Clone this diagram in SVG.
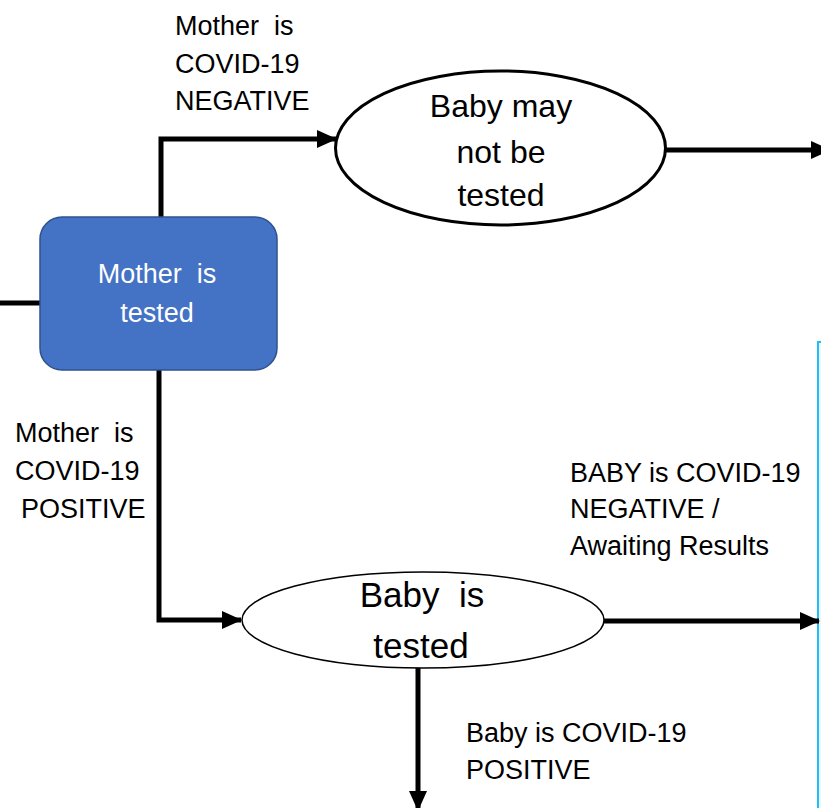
<svg xmlns="http://www.w3.org/2000/svg" width="821" height="808" viewBox="0 0 821 808">
<style>
.ln{fill:none;stroke:#000;stroke-width:5}
.t{font-family:"Liberation Sans",Arial,sans-serif;font-size:27px;fill:#000;white-space:pre}
.c{text-anchor:middle}
</style>
<defs>
<marker id="ah" markerUnits="userSpaceOnUse" markerWidth="20" markerHeight="18" refX="19" refY="9" orient="auto">
<path d="M0,0 L20,9 L0,18 Z" fill="#000"/>
</marker>
</defs>
<rect width="821" height="808" fill="#fff"/>
<g id="panel">
<rect x="818" y="342" width="6" height="470" fill="#EEF6FD" stroke="#1EC0F5" stroke-width="2"/>
</g>
<g id="connectors">
<line class="ln" x1="0" y1="303" x2="40" y2="303"/>
<polyline class="ln" points="161,217 161,139 336,139" marker-end="url(#ah)"/>
<line class="ln" x1="666" y1="150" x2="830" y2="150" marker-end="url(#ah)"/>
<polyline class="ln" points="159,370 159,620 241,620" marker-end="url(#ah)"/>
<line class="ln" x1="604" y1="621" x2="819" y2="621" marker-end="url(#ah)"/>
<line class="ln" x1="418" y1="668" x2="418" y2="810" marker-end="url(#ah)"/>
</g>
<g id="mother-tested">
<rect x="40" y="217" width="237" height="153" rx="22" fill="#4472C4" stroke="#2F528F" stroke-width="1.5"/>
<text class="t c" x="157" y="283" xml:space="preserve" style="fill:#fff">Mother  is</text>
<text class="t c" x="157" y="322" style="fill:#fff">tested</text>
</g>
<g id="baby-may-not">
<ellipse cx="500.5" cy="148" rx="165" ry="77" fill="#fff" stroke="#000" stroke-width="3"/>
<text class="t c" x="501" y="117" style="font-size:32px">Baby may</text>
<text class="t c" x="501" y="163" style="font-size:32px">not be</text>
<text class="t c" x="501" y="206" style="font-size:32px">tested</text>
</g>
<g id="baby-tested">
<ellipse cx="423" cy="620" rx="181" ry="48" fill="#fff" stroke="#000" stroke-width="1.5"/>
<text class="t c" x="422" y="607" xml:space="preserve" style="font-size:35px">Baby  is</text>
<text class="t c" x="421" y="658" style="font-size:35px">tested</text>
</g>
<g id="labels">
<text class="t" x="175" y="35" xml:space="preserve">Mother  is</text>
<text class="t" x="175" y="73">COVID-19</text>
<text class="t" x="175" y="110">NEGATIVE</text>
<text class="t" x="15" y="442" xml:space="preserve">Mother  is</text>
<text class="t" x="15" y="480">COVID-19</text>
<text class="t" x="21" y="518">POSITIVE</text>
<text class="t" x="570" y="482">BABY is COVID-19</text>
<text class="t" x="570" y="518">NEGATIVE /</text>
<text class="t" x="570" y="555">Awaiting Results</text>
<text class="t" x="466" y="742">Baby is COVID-19</text>
<text class="t" x="466" y="779">POSITIVE</text>
</g>
</svg>
